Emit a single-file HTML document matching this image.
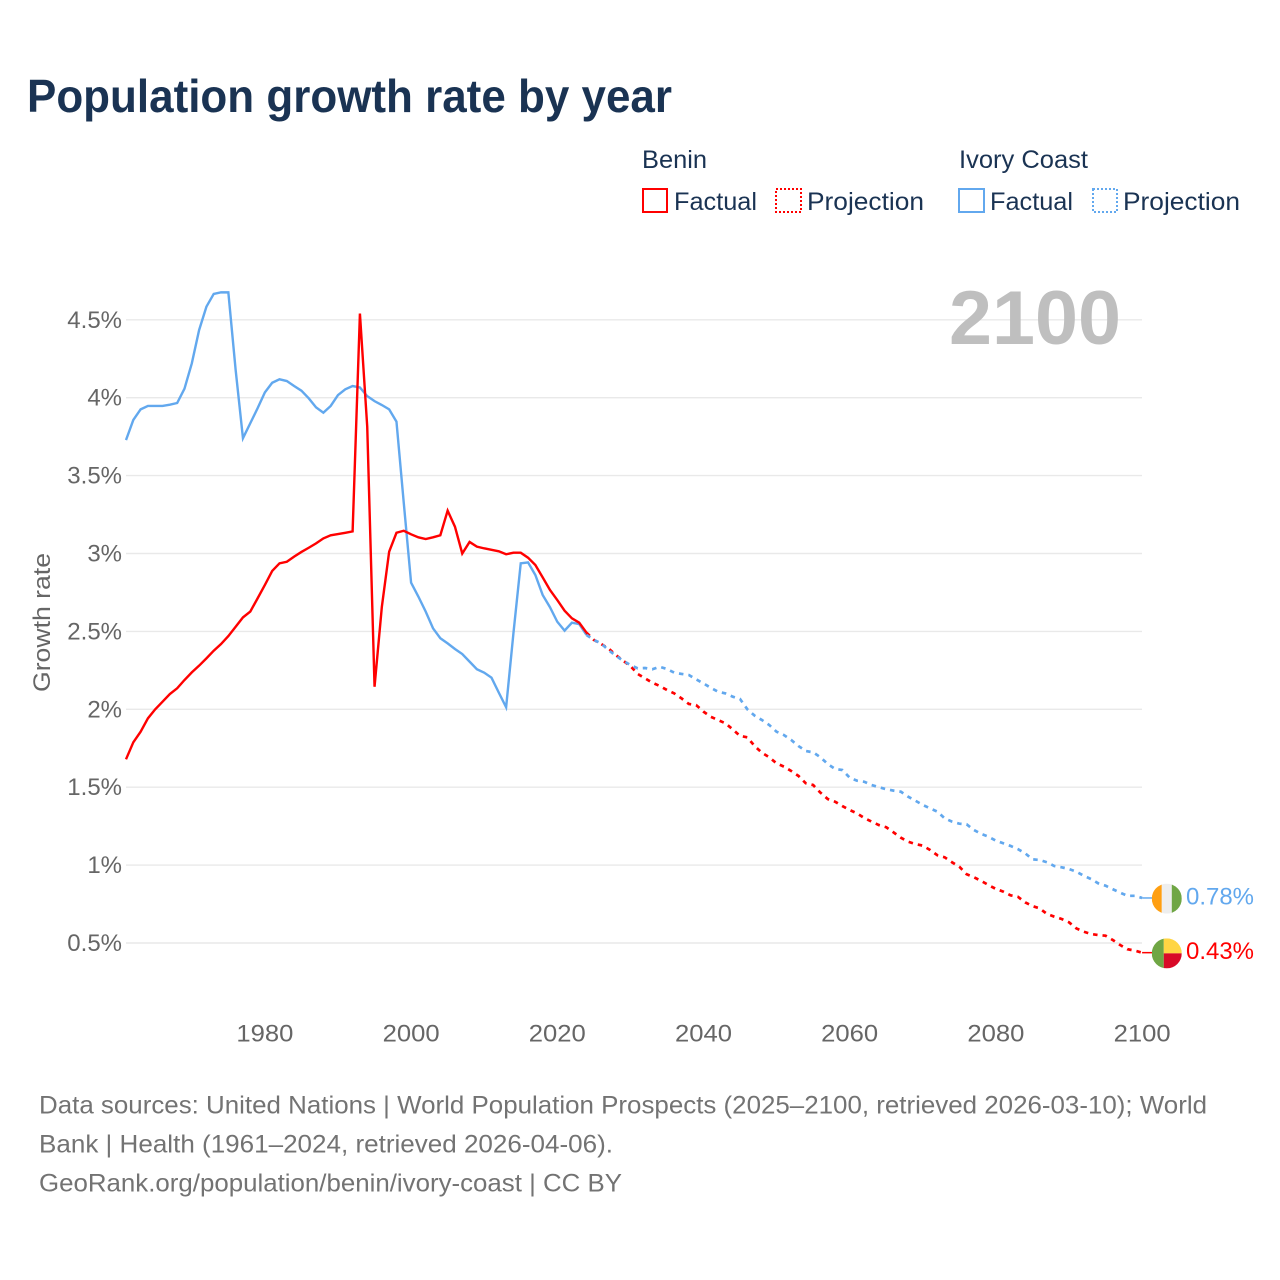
<!DOCTYPE html>
<html lang="en">
<head>
<meta charset="utf-8">
<title>Population growth rate by year</title>
<style>
html,body{margin:0;padding:0;background:#fff;width:1280px;height:1280px;overflow:hidden}
svg{display:block;font-family:"Liberation Sans",sans-serif}
</style>
</head>
<body>
<svg id="chart" width="1280" height="1280" viewBox="0 0 1280 1280" xmlns="http://www.w3.org/2000/svg">
  <rect x="0" y="0" width="1280" height="1280" fill="#ffffff"/>
  <text x="27" y="112" font-size="46" font-weight="700" fill="#1a3353" textLength="645" lengthAdjust="spacingAndGlyphs">Population growth rate by year</text>

  <g font-size="25" fill="#1a3353">
    <text x="642" y="168" textLength="65" lengthAdjust="spacingAndGlyphs">Benin</text>
    <text x="959" y="168" textLength="129" lengthAdjust="spacingAndGlyphs">Ivory Coast</text>
    <rect x="643" y="189" width="24" height="23" fill="none" stroke="#ff0000" stroke-width="2"/>
    <text x="674" y="210" textLength="83" lengthAdjust="spacingAndGlyphs">Factual</text>
    <rect x="776" y="189" width="25" height="23" fill="none" stroke="#ff0000" stroke-width="2" stroke-dasharray="2 2"/>
    <text x="807" y="210" textLength="117" lengthAdjust="spacingAndGlyphs">Projection</text>
    <rect x="959" y="189" width="25" height="23" fill="none" stroke="#62a8ee" stroke-width="2"/>
    <text x="990" y="210" textLength="83" lengthAdjust="spacingAndGlyphs">Factual</text>
    <rect x="1093" y="189" width="24" height="23" fill="none" stroke="#62a8ee" stroke-width="2" stroke-dasharray="2 2"/>
    <text x="1123" y="210" textLength="117" lengthAdjust="spacingAndGlyphs">Projection</text>
  </g>

  <g id="grid"></g>
  <g id="yticks"></g>
  <g id="xticks"></g>
  <text transform="translate(50,622.5) rotate(-90)" text-anchor="middle" font-size="24" fill="#666666" textLength="139" lengthAdjust="spacingAndGlyphs">Growth rate</text>
  <text x="949" y="344" font-size="76" font-weight="700" fill="#bfbfbf" textLength="172" lengthAdjust="spacingAndGlyphs">2100</text>

  <g id="series"></g>
  <g id="ends"></g>

  <g font-size="25" fill="#737373">
    <text x="39" y="1113.5" textLength="1168" lengthAdjust="spacingAndGlyphs">Data sources: United Nations | World Population Prospects (2025–2100, retrieved 2026-03-10); World</text>
    <text x="39" y="1152.5" textLength="574" lengthAdjust="spacingAndGlyphs">Bank | Health (1961–2024, retrieved 2026-04-06).</text>
    <text x="39" y="1191.5" textLength="583" lengthAdjust="spacingAndGlyphs">GeoRank.org/population/benin/ivory-coast | CC BY</text>
  </g>
</svg>
<script>
const yTickValues = [0.5, 1, 1.5, 2, 2.5, 3, 3.5, 4, 4.5];
const yTickLabels = ["0.5%", "1%", "1.5%", "2%", "2.5%", "3%", "3.5%", "4%", "4.5%"];
const xTickYears = [1980, 2000, 2020, 2040, 2060, 2080, 2100];
const firstFactualYear = 1961;
const firstProjectionYear = 2025;

const beninFactual = [
  1.679,1.788,1.856,1.942,2.0,2.049,2.098,2.135,2.188,
  2.237,2.28,2.327,2.376,2.419,2.47,2.53,2.59,2.627,2.712,
  2.798,2.888,2.937,2.947,2.98,3.01,3.037,3.065,3.097,3.117,
  3.125,3.133,3.142,4.54,3.814,2.145,2.658,3.012,3.133,3.146,
  3.123,3.104,3.093,3.104,3.117,3.275,3.172,3.0,3.074,3.044,
  3.033,3.024,3.014,2.995,3.005,3.005,2.973,2.926,2.847,2.766,
  2.701,2.633,2.584,2.556,2.492
];
const ivoryFactual = [
  3.728,3.857,3.925,3.947,3.947,3.947,3.955,3.966,4.058,
  4.22,4.434,4.584,4.666,4.676,4.676,4.178,3.74,3.836,3.932,
  4.034,4.096,4.118,4.107,4.075,4.045,3.996,3.938,3.904,3.947,
  4.017,4.054,4.075,4.066,4.01,3.978,3.953,3.925,3.846,3.324,
  2.813,2.723,2.627,2.52,2.456,2.423,2.387,2.355,2.306,2.257,
  2.235,2.203,2.107,2.013,2.488,2.937,2.943,2.862,2.734,2.655,
  2.562,2.505,2.556,2.547,2.477
];
const beninProjection = [
  2.445,2.419,2.391,2.349,2.312,2.278,2.227,2.199,2.171,2.15,
  2.124,2.102,2.07,2.034,2.027,1.985,1.952,1.931,1.91,1.871,
  1.829,1.82,1.764,1.721,1.692,1.653,1.632,1.604,1.572,1.525,
  1.514,1.465,1.424,1.407,1.379,1.354,1.332,1.302,1.279,1.257,
  1.243,1.21,1.176,1.15,1.135,1.125,1.097,1.063,1.05,1.018,
  0.99,0.941,0.922,0.898,0.872,0.847,0.83,0.806,0.797,0.761,
  0.737,0.722,0.686,0.669,0.654,0.633,0.594,0.573,0.558,0.551,
  0.547,0.519,0.487,0.46,0.451,0.438
];
const ivoryProjection = [
  2.445,2.423,2.38,2.344,2.312,2.284,2.263,2.265,2.257,2.273,
  2.259,2.235,2.227,2.22,2.192,2.166,2.138,2.113,2.102,2.081,
  2.066,2.0,1.959,1.931,1.899,1.856,1.835,1.803,1.764,1.732,
  1.724,1.692,1.649,1.617,1.61,1.561,1.542,1.535,1.514,1.5,
  1.487,1.478,1.471,1.439,1.413,1.386,1.364,1.343,1.3,1.279,
  1.266,1.262,1.225,1.2,1.182,1.157,1.14,1.123,1.103,1.076,
  1.037,1.033,1.018,0.994,0.986,0.975,0.958,0.932,0.911,0.883,
  0.868,0.845,0.823,0.803,0.803,0.789
];
const beninEndLabel = "0.43%";
const ivoryEndLabel = "0.78%";

const NS = "http://www.w3.org/2000/svg";
const RED = "#ff0000";
const BLUE = "#62a8ee";
function xScale(year) { return 126 + (year - 1961) * 7.31; }
function yScale(v) { return 943 - (v - 0.5) * 155.8; }
function make(tag, parent) {
  const el = document.createElementNS(NS, tag);
  parent.appendChild(el);
  return el;
}

const gridG = document.getElementById("grid");
const yG = document.getElementById("yticks");
yTickValues.forEach(function (v, i) {
  const line = make("line", gridG);
  
  
  line.setAttribute("x1", 126);
  line.setAttribute("x2", 1142);
  line.setAttribute("y1", yScale(v));
  line.setAttribute("y2", yScale(v));
  line.setAttribute("stroke", "#e9e9e9");
  line.setAttribute("stroke-width", "1.4");
  const t = make("text", yG);
  
  
  t.setAttribute("x", 122);
  t.setAttribute("y", yScale(v) + 8);
  t.setAttribute("text-anchor", "end");
  t.setAttribute("font-size", "24");
  t.setAttribute("fill", "#666666");
  t.textContent = yTickLabels[i];
});

const xG = document.getElementById("xticks");
xTickYears.forEach(function (year) {
  const t = make("text", xG);
  
  
  t.setAttribute("x", xScale(year));
  t.setAttribute("y", 1041.5);
  t.setAttribute("text-anchor", "middle");
  t.setAttribute("font-size", "24");
  t.setAttribute("fill", "#666666");
  t.setAttribute("textLength", "57");
  t.setAttribute("lengthAdjust", "spacingAndGlyphs");
  t.textContent = String(year);
});

function pathFrom(values, startYear, prefix) {
  let d = prefix;
  values.forEach(function (v, i) {
    const cmd = d === "" ? "M" : "L";
    d += cmd + xScale(startYear + i).toFixed(2) + " " + yScale(v).toFixed(2);
  });
  return d;
}

const seriesG = document.getElementById("series");
function drawFactual(values, color, name) {
  const p = make("path", seriesG);
  
  
  p.setAttribute("d", pathFrom(values, firstFactualYear, ""));
  p.setAttribute("fill", "none");
  p.setAttribute("stroke", color);
  p.setAttribute("stroke-width", "2.4");
  p.setAttribute("stroke-linejoin", "miter");
}
function drawProjection(values, factual, color, name) {
  const lastYear = firstProjectionYear - 1;
  const start = "M" + xScale(lastYear).toFixed(2) + " " + yScale(factual[factual.length - 1]).toFixed(2);
  const p = make("path", seriesG);
  
  
  p.setAttribute("d", pathFrom(values, firstProjectionYear, start));
  p.setAttribute("fill", "none");
  p.setAttribute("stroke", color);
  p.setAttribute("stroke-width", "2.7");
  p.setAttribute("stroke-dasharray", "4.5 5");
}
drawFactual(ivoryFactual, BLUE, "ivory-coast-factual-line");
drawFactual(beninFactual, RED, "benin-factual-line");
drawProjection(beninProjection, beninFactual, RED, "benin-projection-line");
drawProjection(ivoryProjection, ivoryFactual, BLUE, "ivory-coast-projection-line");

const endsG = document.getElementById("ends");
function addFlagPart(group, tag, attrs, name) {
  const el = make(tag, group);
  
  
  Object.keys(attrs).forEach(function (k) { el.setAttribute(k, attrs[k]); });
}
function drawEnd(values, color, labelText, clipId, parts, name) {
  const ly = yScale(values[values.length - 1]);
  const lx = xScale(2100);
  const conn = make("line", endsG);
  
  
  conn.setAttribute("x1", lx);
  conn.setAttribute("x2", lx + 10);
  conn.setAttribute("y1", ly);
  conn.setAttribute("y2", ly);
  conn.setAttribute("stroke", color);
  conn.setAttribute("stroke-width", "1.5");

  const clip = make("clipPath", endsG);
  clip.setAttribute("id", clipId);
  const cc = make("circle", clip);
  cc.setAttribute("cx", 0);
  cc.setAttribute("cy", 0);
  cc.setAttribute("r", 15);

  const g = make("g", endsG);
  
  
  g.setAttribute("transform", "translate(" + (lx + 24.7) + "," + (ly + 0.7) + ")");
  g.setAttribute("clip-path", "url(#" + clipId + ")");
  parts.forEach(function (pt) { addFlagPart(g, "rect", pt, name + '-flag-band'); });

  const t = make("text", endsG);
  
  
  t.setAttribute("x", 1186);
  t.setAttribute("y", ly + 6.5);
  t.setAttribute("font-size", "24");
  t.setAttribute("fill", color);
  t.setAttribute("textLength", "68");
  t.setAttribute("lengthAdjust", "spacingAndGlyphs");
  t.textContent = labelText;
}
drawEnd(ivoryProjection, BLUE, ivoryEndLabel, "flag-clip-ci", [
  {x: -15, y: -15, width: 10, height: 30, fill: "#ff9f12"},
  {x: -5, y: -15, width: 10, height: 30, fill: "#eeeeee"},
  {x: 5, y: -15, width: 10, height: 30, fill: "#6fa644"}
], "ivory-coast-end");
drawEnd(beninProjection, RED, beninEndLabel, "flag-clip-bj", [
  {x: -15, y: -15, width: 12, height: 30, fill: "#6fa644"},
  {x: -3, y: -15, width: 18, height: 15, fill: "#ffd543"},
  {x: -3, y: 0, width: 18, height: 15, fill: "#d80a27"}
], "benin-end");
</script>
</body>
</html>
